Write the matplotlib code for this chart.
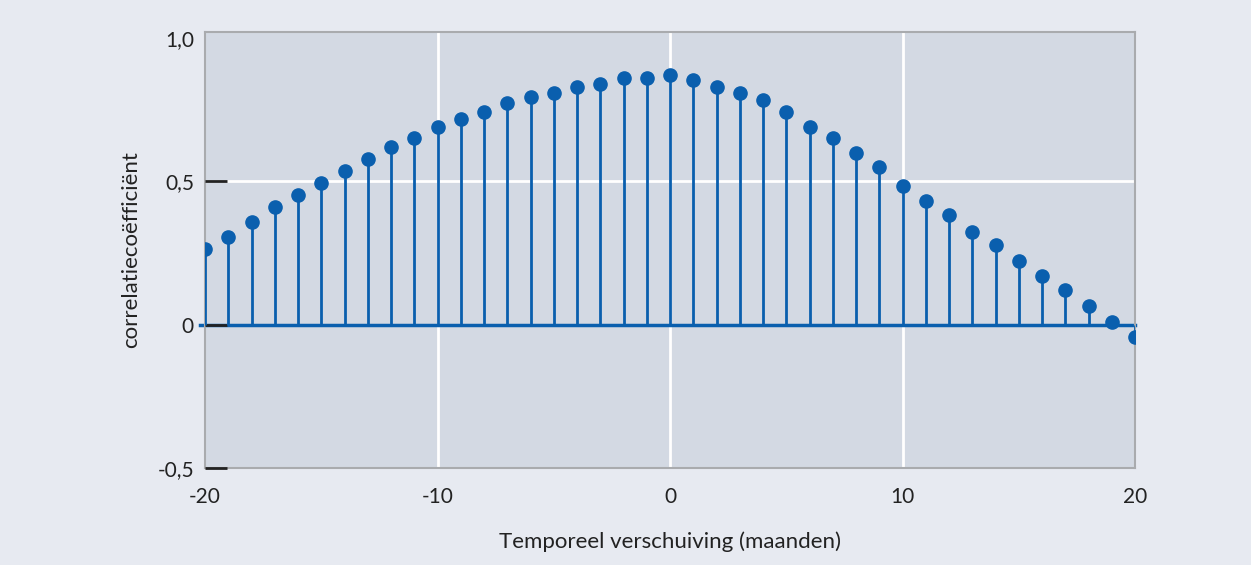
import matplotlib.pyplot as plt
from matplotlib.ticker import FuncFormatter

lags = list(range(-20, 21))
corr = [0.262, 0.306, 0.358, 0.409, 0.450, 0.495, 0.536, 0.577, 0.618, 0.649,
        0.687, 0.715, 0.741, 0.771, 0.792, 0.807, 0.828, 0.838, 0.861, 0.861,
        0.871, 0.851, 0.828, 0.807, 0.782, 0.741, 0.687, 0.649, 0.597, 0.548,
        0.484, 0.432, 0.383, 0.321, 0.276, 0.220, 0.171, 0.119, 0.066, 0.010,
        -0.045]
xticks = [-20, -10, 0, 10, 20]
yticks = [-0.5, 0, 0.5, 1.0]

blue = '#0a5fae'
plt.rcParams['font.family'] = ['Lato', 'DejaVu Sans']

fig = plt.figure(figsize=(12.51, 5.65), dpi=100, facecolor='#e7eaf1')
ax = fig.add_axes([0.1639, 0.1717, 0.7434, 0.7717])
ax.set_facecolor('#d3d9e3')
ax.set_axisbelow(False)

ax.set_xlim(-20, 20)
ax.set_ylim(-0.5, 1.02)
for x in xticks[1:-1]:
    ax.axvline(x, color='white', lw=2, zorder=1)
ax.axhline(0.5, color='white', lw=2, zorder=1)

markerline, stemlines, baseline = ax.stem(lags, corr, basefmt=' ')
plt.setp(stemlines, color=blue, lw=2, zorder=3)
plt.setp(markerline, color=blue, markersize=9.5, zorder=4)
ax.plot([-20.2, 20], [0, 0], color=blue, lw=2.5, zorder=2, clip_on=False)

for s in ax.spines.values():
    s.set_color('#a9abae')
    s.set_linewidth(1.5)

ax.set_xticks(xticks)
ax.set_yticks(yticks)
fmt = FuncFormatter(lambda v, p: '0' if v == 0 else f'{v:.1f}'.replace('.', ','))
ax.xaxis.set_major_formatter(FuncFormatter(lambda v, p: f'{int(v)}'))
ax.yaxis.set_major_formatter(fmt)
ax.tick_params(axis='x', length=0, labelsize=15, pad=14, colors='#222222')
ax.tick_params(axis='y', direction='in', length=16, width=2, color='#222222',
               labelsize=15, pad=8, labelcolor='#222222')
ax.yaxis.get_major_ticks()[-1].tick1line.set_visible(False)

ax.set_xlabel('Temporeel verschuiving (maanden)', fontsize=16, color='#222222', labelpad=17)
ax.set_ylabel('correlatiecoëfficiënt', fontsize=16, color='#222222', labelpad=12)

fig.savefig('out.png', dpi=100, facecolor=fig.get_facecolor())
